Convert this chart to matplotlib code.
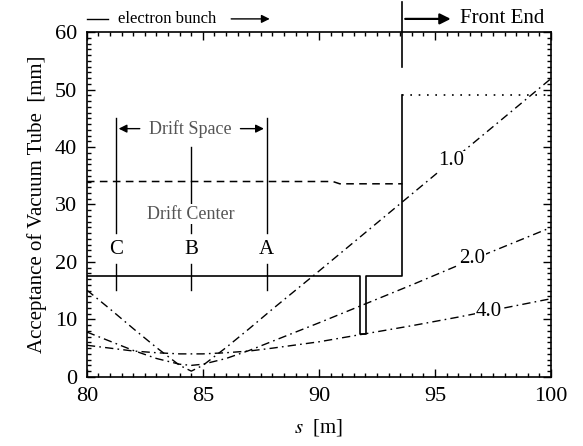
import numpy as np
import matplotlib.pyplot as plt

plt.rcParams['font.family'] = ['Liberation Serif', 'DejaVu Serif']
plt.rcParams['mathtext.fontset'] = 'stix'

# chamber acceptance (solid), front end (dotted), dashed aperture
solid_s = [80.0, 91.75, 91.75, 92.05, 92.05, 93.6, 93.6]
solid_y = [17.5, 17.5, 7.5, 7.5, 17.5, 17.5, 49.0]
dotted_s = [93.6, 100.0]
dotted_y = [49.0, 49.0]
dashed_s = [80.0, 90.6, 90.9, 93.6]
dashed_y = [34.0, 34.0, 33.6, 33.6]

# beam envelopes
beam_s = [80, 81, 82, 83, 84, 84.5, 85, 86, 87, 88, 90, 92, 94, 96, 98, 100]
beam_10 = [15.1, 11.8, 8.4, 5.1, 2.0, 1.0, 2.0, 5.1, 8.4, 11.8, 18.4, 25.1, 31.8, 38.5, 45.2, 51.9]
beam_20 = [7.8, 6.2, 4.6, 3.2, 2.2, 2.0, 2.2, 3.2, 4.6, 6.2, 9.4, 12.7, 16.0, 19.4, 22.7, 26.0]
beam_40 = [5.5, 5.0, 4.5, 4.2, 4.0, 4.0, 4.0, 4.2, 4.5, 5.0, 6.1, 7.5, 8.9, 10.4, 12.0, 13.6]
beam_labels = ['1.0', '2.0', '4.0']
label_pos = [(95.7, 37.6), (96.6, 20.6), (97.3, 11.4)]

points = ['C', 'B', 'A']
points_s = [81.25, 84.5, 87.75]

fig = plt.figure(figsize=(5.83, 4.46), dpi=100)
ax = fig.add_axes([0.149, 0.155, 0.796, 0.773])

ax.plot(solid_s, solid_y, color='black', lw=1.2)
ax.plot(dotted_s, dotted_y, color='black', lw=1.2, linestyle=(0, (1, 4)))
ax.plot(dashed_s, dashed_y, color='black', lw=1.1, linestyle=(0, (5, 3.5)))

dashdot = (0, (6, 3, 1.2, 3))
for ys in [beam_10, beam_20, beam_40]:
    ax.plot(beam_s, ys, color='black', lw=1.0, linestyle=dashdot)
for lab, (x, y) in zip(beam_labels, label_pos):
    ax.text(x, y, lab, fontsize=15, ha='center', va='center',
            bbox=dict(facecolor='white', edgecolor='none', pad=0.5))

# drift space markers
for p, s in zip(points, points_s):
    top = 40.0 if p == 'B' else 45.0
    ax.plot([s, s], [25.0, top], color='black', lw=1.0)
    ax.plot([s, s], [15.2, 19.6], color='black', lw=1.0)
    ax.text(s, 22.2, p, fontsize=15, ha='center', va='center')
ax.text(84.5, 28.3, 'Drift Center', fontsize=13, color='#555555', ha='center', va='center',
        bbox=dict(facecolor='white', edgecolor='none', pad=1))
ax.text(84.45, 43.2, 'Drift Space', fontsize=13, color='#555555', ha='center', va='center')
ax.annotate('', xy=(points_s[0], 43.2), xytext=(82.4, 43.2),
            arrowprops=dict(arrowstyle='-|>', color='black', lw=1.0, mutation_scale=12))
ax.annotate('', xy=(points_s[2], 43.2), xytext=(86.5, 43.2),
            arrowprops=dict(arrowstyle='-|>', color='black', lw=1.0, mutation_scale=12))

# annotations above the frame
ax.plot([80.0, 80.9], [62.3, 62.3], color='black', lw=1.0, clip_on=False)
ax.text(83.45, 62.3, 'electron bunch', fontsize=12, ha='center', va='center')
ax.annotate('', xy=(88.0, 62.3), xytext=(86.1, 62.3), annotation_clip=False,
            arrowprops=dict(arrowstyle='-|>', color='black', lw=1.0, mutation_scale=12))
ax.plot([93.6, 93.6], [53.9, 65.2], color='black', lw=1.2, clip_on=False)
ax.annotate('', xy=(95.8, 62.3), xytext=(93.6, 62.3), annotation_clip=False,
            arrowprops=dict(arrowstyle='-|>', color='black', lw=1.6, mutation_scale=16))
ax.text(96.1, 62.3, 'Front End', fontsize=15, ha='left', va='center')

ax.set_xlim(80, 100)
ax.set_ylim(0, 60)
ax.set_xticks(np.arange(80, 101, 5))
ax.set_yticks(np.arange(0, 61, 10))
ax.set_xticks(np.arange(80, 100.01, 0.5), minor=True)
ax.set_yticks(np.arange(0, 60.01, 1), minor=True)
ax.tick_params(which='both', direction='in', top=True, right=True, labelsize=16, width=1.0)
ax.tick_params(which='major', length=6, pad=7)
ax.tick_params(which='minor', length=3)
for sp in ax.spines.values():
    sp.set_linewidth(1.2)

ax.set_xlabel(r'$s$  [m]', fontsize=15, labelpad=8)
ax.set_ylabel('Acceptance of Vacuum Tube  [mm]', fontsize=15, labelpad=6)

fig.savefig('out.png', dpi=100)
